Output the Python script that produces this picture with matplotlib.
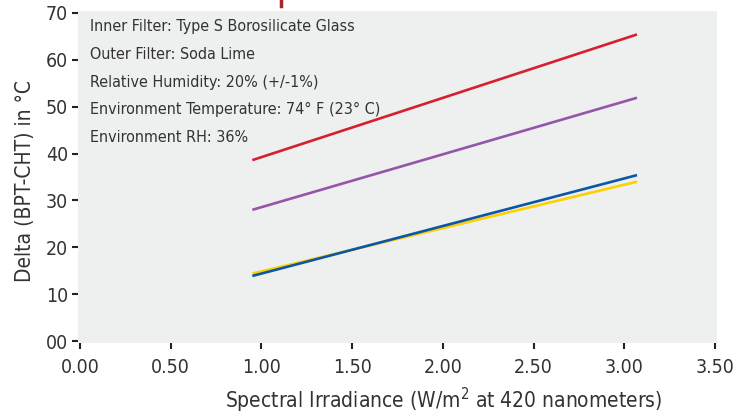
import matplotlib
matplotlib.use('Agg')
import matplotlib.pyplot as plt
from matplotlib.lines import Line2D

plt.rcParams['font.family'] = ['DejaVu Sans']
plt.rcParams['font.stretch'] = 'condensed'

# data
irradiance = [0.95, 3.07]
red_line = [38.6, 65.4]
purple_line = [28.0, 51.9]
yellow_line = [14.4, 34.0]
blue_line = [13.9, 35.4]

x_ticks = [0.0, 0.5, 1.0, 1.5, 2.0, 2.5, 3.0, 3.5]
x_labels = ['0.00', '0.50', '1.00', '1.50', '2.00', '2.50', '3.00', '3.50']
y_ticks = [0, 10, 20, 30, 40, 50, 60, 70]
y_labels = ['00', '10', '20', '30', '40', '50', '60', '70']

notes = ['Inner Filter: Type S Borosilicate Glass',
         'Outer Filter: Soda Lime',
         'Relative Humidity: 20% (+/-1%)',
         'Environment Temperature: 74° F (23° C)',
         'Environment RH: 36%']

W, H = 745, 417
fig = plt.figure(figsize=(W / 100, H / 100), dpi=100)
ax = fig.add_axes([78 / W, 1 - 343 / H, (717 - 78) / W, (343 - 11) / H])
ax.set_facecolor('#eeefef')

ax.plot(irradiance, red_line, color='#d61f30', lw=1.9, solid_capstyle='butt')
ax.plot(irradiance, purple_line, color='#9656a8', lw=1.9, solid_capstyle='butt')
ax.plot(irradiance, yellow_line, color='#fdd000', lw=1.9, solid_capstyle='butt')
ax.plot(irradiance, blue_line, color='#0b57a4', lw=1.9, solid_capstyle='butt')

ax.set_xlim(-0.011, 3.511)
ax.set_ylim(-0.4, 70.4)
ax.set_xticks(x_ticks)
ax.set_xticklabels(x_labels)
ax.set_yticks(y_ticks)
ax.set_yticklabels(y_labels)
for s in ax.spines.values():
    s.set_visible(False)
ax.tick_params(axis='both', direction='out', length=4, width=1.5, color='#222222',
               labelsize=14, labelcolor='#333333')
ax.tick_params(axis='y', pad=3)
ax.tick_params(axis='x', pad=7)

ax.set_xlabel('Spectral Irradiance (W/m$^2$ at 420 nanometers)', fontsize=15,
              color='#333333')
ax.xaxis.set_label_coords(0.573, -0.128)
ax.set_ylabel('Delta (BPT-CHT) in °C', fontsize=15, color='#333333')
ax.yaxis.set_label_coords(-0.067, 0.488)

for i, t in enumerate(notes):
    ax.text(12 / (717 - 78), 1 - (16 + i * 27.5) / 332, t, transform=ax.transAxes,
            fontsize=11.5, color='#333333', va='center', ha='left')

# cut-off mark at the top edge
fig.add_artist(Line2D([281 / W, 281 / W], [1, 1 - 6 / H], color='#a0272d', lw=2.5))

fig.savefig('out.png', dpi=100)
